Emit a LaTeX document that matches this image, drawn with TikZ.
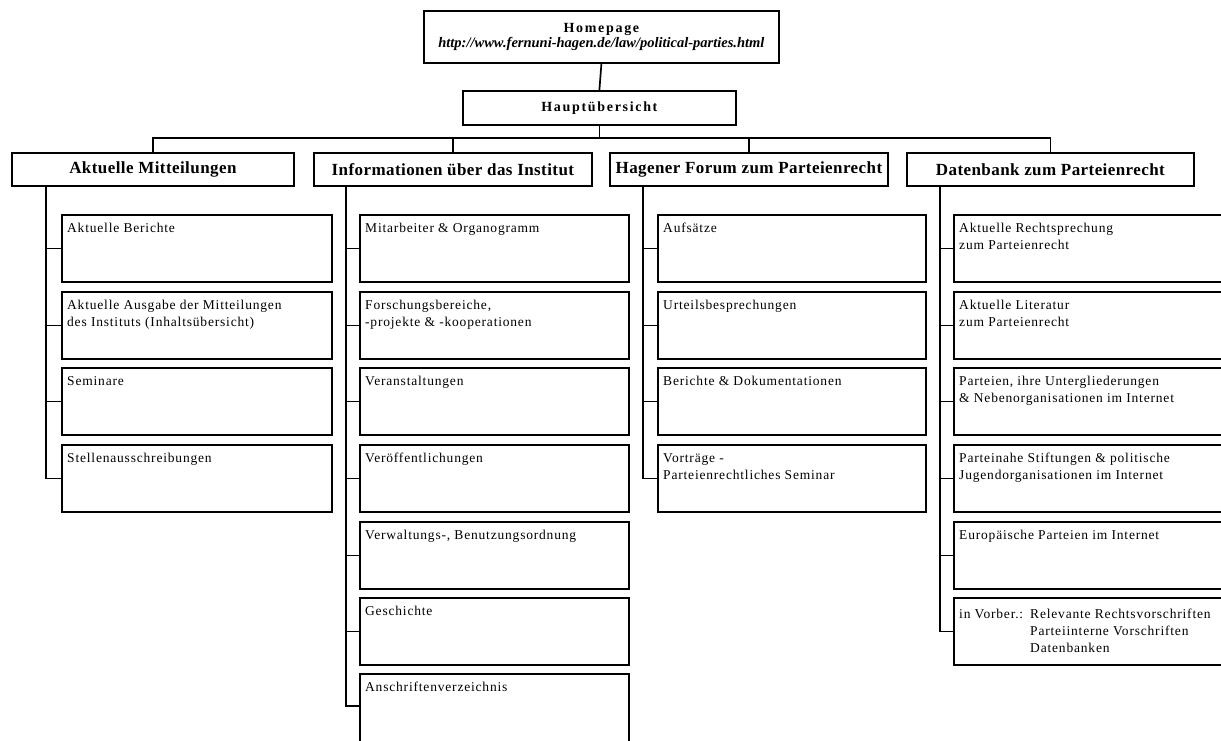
\documentclass[tikz,border=0pt]{standalone}
\usepackage{fontspec}
\setmainfont{Liberation Serif}
\newfontfamily\childfont[LetterSpace=6]{Liberation Serif}
\newfontfamily\headfont[LetterSpace=2.5]{Liberation Serif}
\newfontfamily\topfont[LetterSpace=12]{Liberation Serif}
\begin{document}
\begin{tikzpicture}[x=1pt,y=-1pt,
  frame/.style={draw=black,line width=1.8pt,rectangle,inner sep=0pt,anchor=north west},
  topbox/.style={frame,align=center},
  headbox/.style={frame,minimum height=33pt,font=\headfont\fontsize{17}{20}\selectfont\bfseries},
  cbox/.style={frame,minimum width=#1,minimum height=67pt},
  cbox/.default=270pt,
  ctext/.style={anchor=north west,inner sep=0pt,xshift=6pt,yshift=-9pt,align=left,
     font=\childfont\fontsize{13.5}{17}\selectfont},
  link/.style={draw=black,line width=1.7pt}
]
\useasboundingbox (0,0) rectangle (1221,740);
\fill[white] (0,0) rectangle (1221,740);
\clip (0,0) rectangle (1221,740);

% top
\node[topbox,minimum width=355pt,minimum height=52pt] (home) at (423,10)
  {{\topfont\fontsize{14}{17}\selectfont\bfseries Homepage}\\[1pt]
   {\fontsize{14.5}{17}\selectfont\bfseries\itshape http://www.fernuni-hagen.de/law/political-parties.html}};
\node[topbox,minimum width=273pt,minimum height=34pt,font=\topfont\fontsize{14}{17}\selectfont\bfseries] (haupt) at (462,90) {Hauptübersicht};

% headers
\node[headbox,minimum width=282pt] (h1) at (11,152) {Aktuelle Mitteilungen};
\node[headbox,minimum width=278pt] (h2) at (313,152) {Informationen über das Institut};
\node[headbox,minimum width=278pt] (h3) at (609,152) {Hagener Forum zum Parteienrecht};
\node[headbox,minimum width=287pt] (h4) at (906,152) {Datenbank zum Parteienrecht};

% connectors top
\coordinate (bar) at (600,138);
\draw[link] (home.south) -- (haupt.north);
\draw[link] (haupt.south) -- (haupt.south |- bar);
\draw[link] (h1.north) -- (h1.north |- bar) -- (h4.north |- bar) -- (h4.north);
\draw[link] (h2.north) -- (h2.north |- bar);
\draw[link] (h3.north) -- (h3.north |- bar);

% column 1
\node[cbox,label={[ctext]north west:Aktuelle Berichte}] (a1) at (61,214) {};
\node[cbox,label={[ctext]north west:{Aktuelle Ausgabe der Mitteilungen\\des Instituts (Inhaltsübersicht)}}] (a2) at (61,291) {};
\node[cbox,label={[ctext]north west:Seminare}] (a3) at (61,367) {};
\node[cbox,label={[ctext]north west:Stellenausschreibungen}] (a4) at (61,444) {};

% column 2
\node[cbox=269pt,label={[ctext]north west:Mitarbeiter \& Organogramm}] (b1) at (359,214) {};
\node[cbox=269pt,label={[ctext]north west:{Forschungsbereiche,\\-projekte \& -kooperationen}}] (b2) at (359,291) {};
\node[cbox=269pt,label={[ctext]north west:Veranstaltungen}] (b3) at (359,367) {};
\node[cbox=269pt,label={[ctext]north west:Veröffentlichungen}] (b4) at (359,444) {};
\node[cbox=269pt,label={[ctext]north west:{Verwaltungs-, Benutzungsordnung}}] (b5) at (359,521) {};
\node[cbox=269pt,label={[ctext]north west:Geschichte}] (b6) at (359,597) {};
\node[cbox=269pt,minimum height=90pt,label={[ctext]north west:Anschriftenverzeichnis}] (b7) at (359,673) {};

% column 3
\node[cbox=268pt,label={[ctext]north west:Aufsätze}] (c1) at (657,214) {};
\node[cbox=268pt,label={[ctext]north west:Urteilsbesprechungen}] (c2) at (657,291) {};
\node[cbox=268pt,label={[ctext]north west:Berichte \& Dokumentationen}] (c3) at (657,367) {};
\node[cbox=268pt,label={[ctext]north west:{Vorträge -\\Parteienrechtliches Seminar}}] (c4) at (657,444) {};

% column 4
\node[cbox=290pt,label={[ctext]north west:{Aktuelle Rechtsprechung\\zum Parteienrecht}}] (d1) at (953,214) {};
\node[cbox=290pt,label={[ctext]north west:{Aktuelle Literatur\\zum Parteienrecht}}] (d2) at (953,291) {};
\node[cbox=290pt,label={[ctext]north west:{Parteien, ihre Untergliederungen\\\& Nebenorganisationen im Internet}}] (d3) at (953,367) {};
\node[cbox=290pt,label={[ctext]north west:{Parteinahe Stiftungen \& politische\\Jugendorganisationen im Internet}}] (d4) at (953,444) {};
\node[cbox=290pt,label={[ctext]north west:{Europäische Parteien im Internet}}] (d5) at (953,521) {};
\node[cbox=290pt,label={[ctext]north west:{\begin{tabular}{@{}l@{\hspace{7pt}}l@{}}in Vorber.: & Relevante Rechtsvorschriften\\ & Parteiinterne Vorschriften\\ & Datenbanken\end{tabular}}}] (d6) at (953,597) {};

% column spines
\coordinate (s1) at (46,185);
\coordinate (s2) at (346,185);
\coordinate (s3) at (643,185);
\coordinate (s4) at (940,185);

\draw[link] (s1) |- (a4.west);
\foreach \n in {a1,a2,a3} \draw[link] (s1 |- \n.west) -- (\n.west);
\draw[link] (s2) |- (b7.west |- 0,706);
\foreach \n in {b1,b2,b3,b4,b5,b6} \draw[link] (s2 |- \n.west) -- (\n.west);
\draw[link] (s3) |- (c4.west);
\foreach \n in {c1,c2,c3} \draw[link] (s3 |- \n.west) -- (\n.west);
\draw[link] (s4) |- (d6.west);
\foreach \n in {d1,d2,d3,d4,d5} \draw[link] (s4 |- \n.west) -- (\n.west);
\end{tikzpicture}
\end{document}
